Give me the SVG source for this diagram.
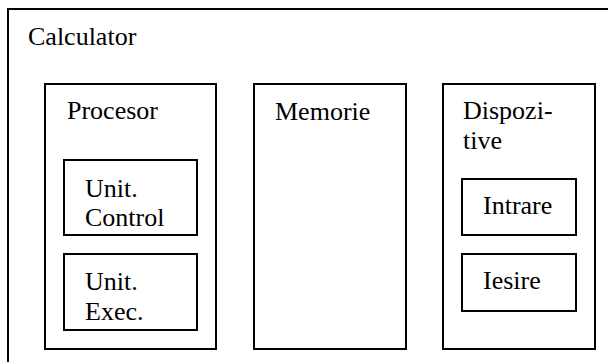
<svg xmlns="http://www.w3.org/2000/svg" width="608" height="362" viewBox="0 0 608 362">
  <style>
    .box { fill: #ffffff; stroke: #000000; stroke-width: 2; }
    text { font-family: "Liberation Serif", "Times New Roman", Times, serif; font-size: 26px; fill: #000000; }
  </style>
  <rect x="0" y="0" width="608" height="362" fill="#ffffff"/>
  <!-- outer frame runs past the right and bottom edges of the canvas -->
  <g id="calculator">
    <rect class="box" x="8" y="9" width="610" height="370"/>
    <text x="28" y="45">Calculator</text>
  </g>
  <g id="procesor">
    <rect class="box" x="45" y="84" width="171" height="265"/>
    <text x="67" y="119">Procesor</text>
  </g>
  <g id="unit-control">
    <rect class="box" x="64" y="160" width="133" height="75"/>
    <text x="85" y="197">Unit.</text>
    <text x="85" y="226">Control</text>
  </g>
  <g id="unit-exec">
    <rect class="box" x="64" y="254" width="133" height="76"/>
    <text x="85" y="290">Unit.</text>
    <text x="85" y="320">Exec.</text>
  </g>
  <g id="memorie">
    <rect class="box" x="254" y="84" width="152" height="265"/>
    <text x="275" y="120">Memorie</text>
  </g>
  <g id="dispozitive">
    <rect class="box" x="443" y="84" width="152" height="265"/>
    <text x="463" y="119">Dispozi-</text>
    <text x="463" y="149">tive</text>
  </g>
  <g id="intrare">
    <rect class="box" x="462" y="179" width="114" height="56"/>
    <text x="483" y="214">Intrare</text>
  </g>
  <g id="iesire">
    <rect class="box" x="462" y="254" width="114" height="57"/>
    <text x="483" y="289">Iesire</text>
  </g>
  <g id="connectors"></g>
</svg>
